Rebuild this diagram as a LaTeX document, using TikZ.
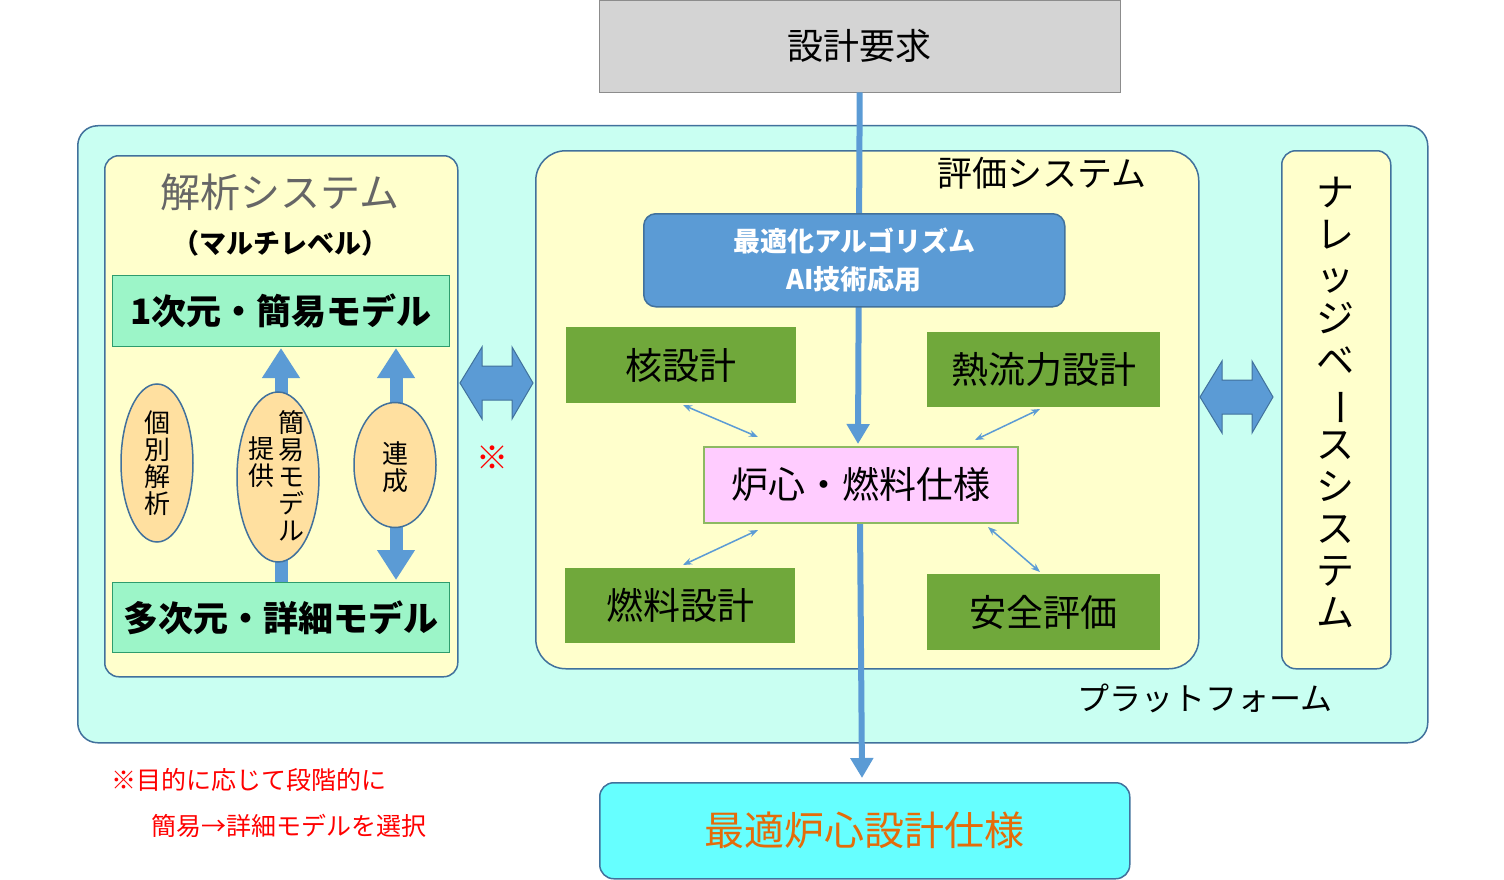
\documentclass[tikz,border=0pt]{standalone}
\usepackage{fontspec}
\setmainfont{Noto Sans CJK JP}
\usetikzlibrary{shapes.geometric,arrows.meta}
\definecolor{bdr}{HTML}{41719C}
\definecolor{ablue}{HTML}{5B9BD5}
\definecolor{cream}{HTML}{FFFFCC}
\definecolor{plat}{HTML}{C9FFF2}
\definecolor{mint}{HTML}{9CF5C8}
\definecolor{grn}{HTML}{70A83B}
\definecolor{ell}{HTML}{FFE0A0}
\definecolor{rosa}{HTML}{FFCCFF}
\definecolor{cyanb}{HTML}{66FFFF}
\definecolor{orng}{HTML}{E46C0A}
\begin{document}
\begin{tikzpicture}[x=1pt,y=-1pt,
 box/.style={draw=bdr,line width=1.5pt,rounded corners=14pt,fill=cream},
 mbox/.style={draw=bdr!70!green,line width=1.2pt,fill=mint,font=\fontsize{35}{38}\selectfont\bfseries},
 gbox/.style={fill=grn,font=\fontsize{37}{40}\selectfont},
 el/.style={ellipse,draw=bdr,line width=1.5pt,fill=ell,inner sep=0},
 vt/.style={align=center,font=\fontsize{26}{27}\selectfont,inner sep=0},
 big/.style={line width=13pt,ablue},
 thin/.style={ablue,line width=1.5pt,{Stealth[length=9pt]}-{Stealth[length=9pt]}},
 darr/.style={fill=ablue,draw=bdr,line width=1pt}]
\useasboundingbox (0,0) rectangle (1504,880);
\node[draw=black!45,fill=black!17,minimum width=521pt,minimum height=92pt,anchor=north west,font=\fontsize{36}{40}\selectfont] (req) at (599,0) {設計要求};
\node[draw=bdr,line width=1.5pt,rounded corners=20pt,fill=plat,minimum width=1350pt,minimum height=617pt,anchor=north west] (plat) at (77,125) {};
\node[font=\fontsize{32}{34}\selectfont] (platl) at (1205,698) {プラットフォーム};
% analysis
\node[box,minimum width=353pt,minimum height=521pt,anchor=north west] (ana) at (104,155) {};
\node[text=black!60,font=\fontsize{40}{42}\selectfont] (anat) at (280,192) {解析システム};
\node[font=\fontsize{27}{30}\selectfont\bfseries] (anas) at (280,243) {（マルチレベル）};
\node[mbox,minimum width=337pt,minimum height=71pt,anchor=north west,inner sep=0] (m1) at (112,275) {1次元・簡易モデル};
\node[mbox,minimum width=337pt,minimum height=70pt,anchor=north west,inner sep=0] (m2) at (112,582) {多次元・詳細モデル};
\coordinate (a1b) at (281,582); \coordinate (a1t) at (281,348);
\draw[big,-{Triangle[width=36pt,length=30pt]}] (a1b) -- (a1t);
\coordinate (a2b) at (396,580); \coordinate (a2t) at (396,348);
\draw[big,{Triangle[width=36pt,length=30pt]}-{Triangle[width=36pt,length=30pt]}] (a2b) -- (a2t);
\node[el,minimum width=72pt,minimum height=158pt] (e1) at (157,463) {};
\node[vt] (e1t) at (157,463) {個\\別\\解\\析};
\node[el,minimum width=82pt,minimum height=170pt] (e2) at (278,477) {};
\node[vt] (e2a) at (291,476) {簡\\易\\モ\\デ\\ル};
\node[vt] (e2b) at (261,462) {提\\供};
\node[el,minimum width=82pt,minimum height=125pt] (e3) at (395,465) {};
\node[vt] (e3t) at (395,467) {連\\成};
\draw[darr] (460,383) -- (482,347) -- (482,366) -- (512,366) -- (512,347) -- (533,383) -- (512,419) -- (512,400) -- (482,400) -- (482,419) -- cycle;
\node[text=red,font=\fontsize{32}{34}\selectfont] (kome) at (492,458) {※};
% evaluation
\node[box,rounded corners=30pt,minimum width=663pt,minimum height=518pt,anchor=north west] (ev) at (535,150) {};
\node[font=\fontsize{35}{38}\selectfont] (evt) at (1042,173) {評価システム};
\coordinate (rotop) at (858,444);
\coordinate (robot) at (860,522);
\coordinate (outtop) at (862,778);
\draw[ablue,line width=6pt,-{Triangle[width=22pt,length=20pt]}] (req.south) -- (rotop);
\draw[ablue,line width=6pt,-{Triangle[width=22pt,length=20pt]}] (robot) -- (outtop);
\node[fill=ablue,draw=bdr,line width=1.5pt,rounded corners=12pt,minimum width=421pt,minimum height=93pt,anchor=north west,text=white,align=center,font=\fontsize{27}{38}\selectfont\bfseries] (opt) at (643,213) {最適化アルゴリズム\\AI技術応用};
\node[gbox,minimum width=230pt,minimum height=76pt,anchor=north west] (kaku) at (566,327) {核設計};
\node[gbox,minimum width=233pt,minimum height=75pt,anchor=north west] (netsu) at (927,332) {熱流力設計};
\node[gbox,minimum width=230pt,minimum height=75pt,anchor=north west] (nen) at (565,568) {燃料設計};
\node[gbox,minimum width=233pt,minimum height=76pt,anchor=north west] (an) at (927,574) {安全評価};
\node[fill=rosa,draw=grn!80,line width=1.5pt,minimum width=314pt,minimum height=76pt,anchor=north west,font=\fontsize{37}{40}\selectfont] (ro) at (703,446) {炉心・燃料仕様};
\node[draw=bdr,line width=1.5pt,rounded corners=14pt,fill=cyanb,minimum width=530pt,minimum height=96pt,anchor=north west,text=orng,font=\fontsize{40}{44}\selectfont] (out) at (599,782) {最適炉心設計仕様};
\draw[thin] (683,405) -- (758,437);
\draw[thin] (1040,409) -- (975,440);
\draw[thin] (683,565) -- (758,530);
\draw[thin] (1040,572) -- (988,527);
% knowledge
\draw[darr] (1200,397) -- (1222,361) -- (1222,380) -- (1252,380) -- (1252,361) -- (1273,397) -- (1252,433) -- (1252,414) -- (1222,414) -- (1222,433) -- cycle;
\node[box,rounded corners=14pt,minimum width=109pt,minimum height=518pt,anchor=north west] (kn) at (1281,150) {};
\node[align=center,inner sep=0,font=\fontsize{38}{42}\selectfont] (knt) at (1335,402) {ナ\\レ\\ッ\\ジ\\ベ\\\rotatebox[origin=c]{-90}{ー}\\ス\\シ\\ス\\テ\\ム};
\node[text=red,anchor=west,font=\fontsize{25}{28}\selectfont] (n1) at (108,780) {※目的に応じて段階的に};
\node[text=red,anchor=west,font=\fontsize{25}{28}\selectfont] (n2) at (148,826) {簡易→詳細モデルを選択};
\end{tikzpicture}
\end{document}
